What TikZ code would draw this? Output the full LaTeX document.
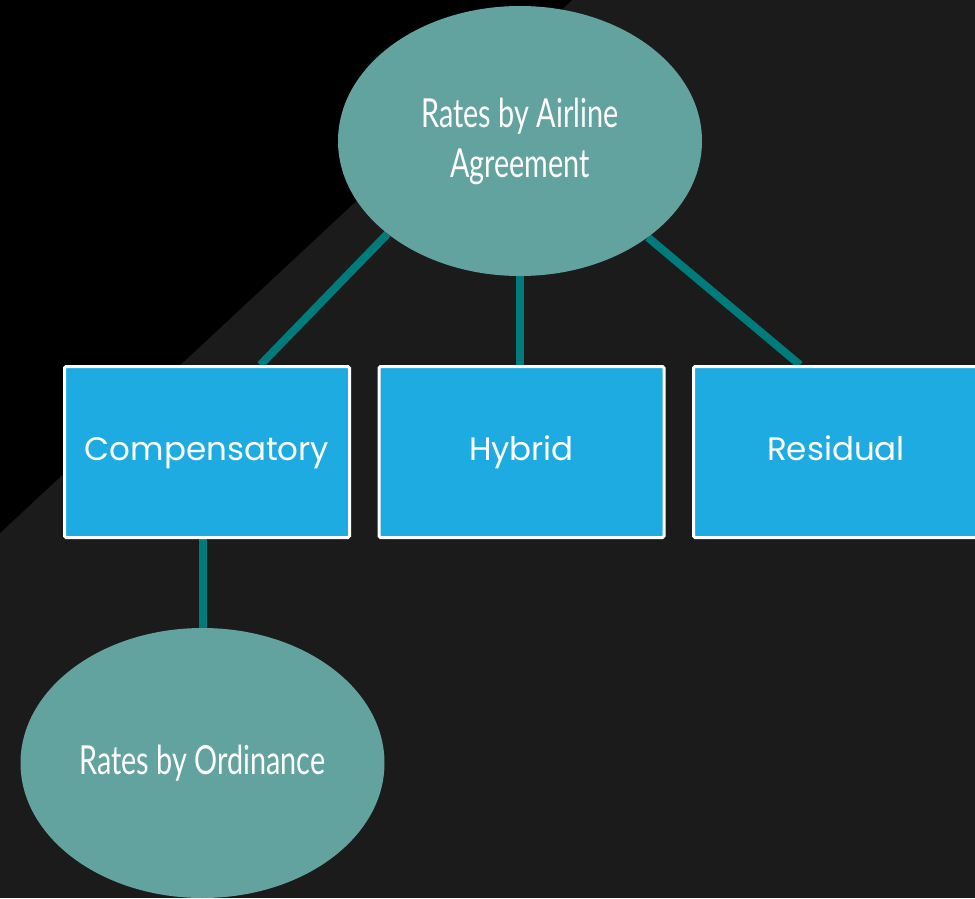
\documentclass[tikz,border=0pt]{standalone}
\usepackage{fontspec}
\usetikzlibrary{shapes.geometric,calc}
\newfontfamily\condfont[FakeStretch=0.72]{Lato}
\newfontfamily\boxfont{Poppins}
\definecolor{pagegrey}{HTML}{1B1B1B}
\definecolor{ovalfill}{HTML}{62A39F}
\definecolor{boxfill}{HTML}{1EABE1}
\definecolor{linkteal}{HTML}{007B7B}
\pgfdeclarelayer{bg}
\pgfdeclarelayer{links}
\pgfsetlayers{bg,links,main}
\tikzset{
  oval/.style={ellipse, fill=ovalfill, inner sep=0pt, minimum width=364pt,
    minimum height=270pt, text=white, align=center,
    font=\condfont\fontsize{40}{50}\selectfont},
  kindbox/.style={rectangle, fill=boxfill, draw=white, line width=3pt,
    rounded corners=1.5pt, minimum width=285pt, minimum height=171pt,
    inner sep=0pt, text=white, text height=1.7em, text depth=0.05em,
    font=\boxfont\fontsize{32.5}{38}\selectfont},
  link/.style={draw=linkteal, line width=8pt}
}
\begin{document}
\begin{tikzpicture}[x=1pt,y=-1pt]
\useasboundingbox (0,0) rectangle (975,898);
\clip (0,0) rectangle (975,898);
\begin{pgfonlayer}{bg}
  \fill[pagegrey] (0,0) rectangle (975,898);
  \fill[black] (0,0) -- (572,0) -- (0,533) -- cycle;
\end{pgfonlayer}

\node[oval] (agree) at (520,141) {Rates by Airline\\Agreement};
\node[kindbox] (comp) at (207,452) {Compensatory};
\node[kindbox] (hyb) at (521.5,452) {Hybrid};
\node[kindbox] (resid) at (836,452) {Residual};
\node[oval] (ord) at (202.5,763) {Rates by Ordinance};

\begin{pgfonlayer}{links}
  \draw[link] (agree.215) -- ($(comp.north west)!0.685!(comp.north east)$);
  \draw[link] (agree.south) -- (agree.south |- hyb.north);
  \draw[link] (agree.323) -- ($(resid.north west)!0.375!(resid.north east)$);
  \draw[link] (comp.south -| ord.north) -- (ord.north);
\end{pgfonlayer}
\end{tikzpicture}
\end{document}
